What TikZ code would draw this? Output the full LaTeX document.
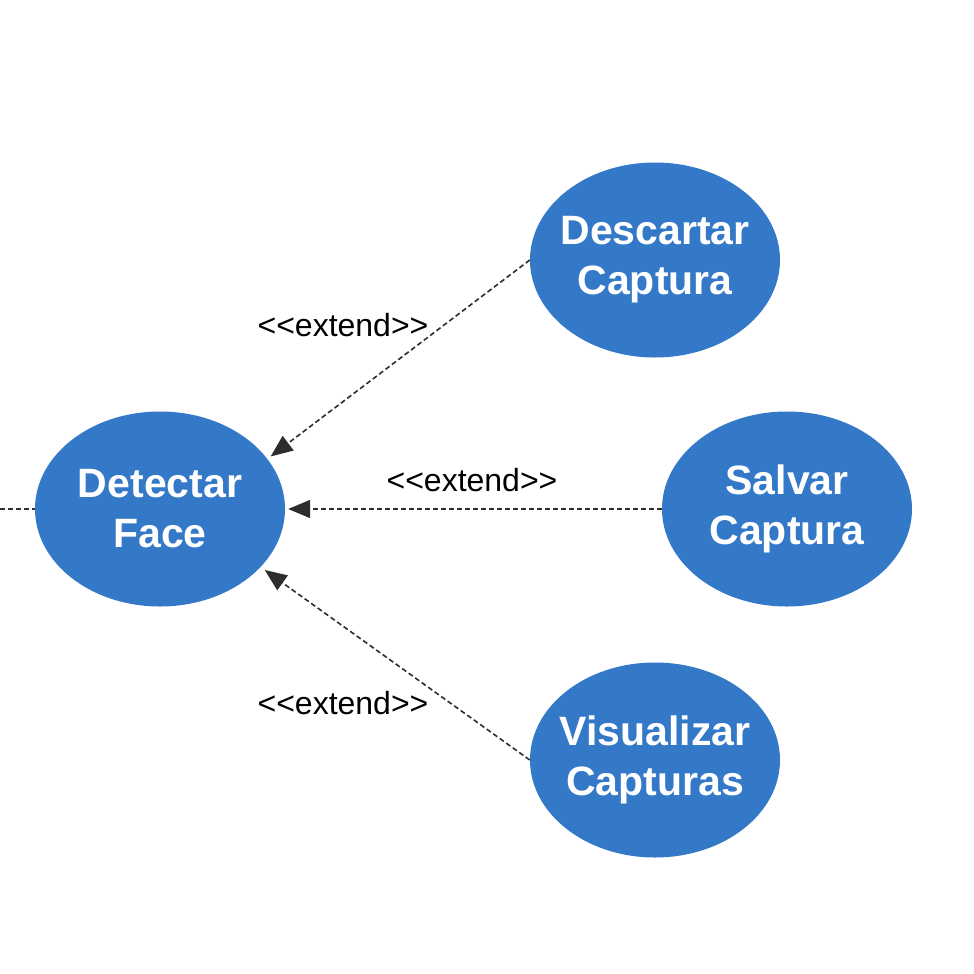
\documentclass[tikz,border=0pt]{standalone}
\usepackage{fontspec}
\setmainfont{Liberation Sans}
\usetikzlibrary{shapes.geometric,arrows.meta}
\definecolor{ucblue}{RGB}{52,120,200}
\definecolor{linegray}{RGB}{45,45,45}
\begin{document}
\begin{tikzpicture}[x=1pt,y=-1pt,
  usecase/.style={ellipse,fill=ucblue,draw=none,minimum width=250pt,minimum height=195pt,
    inner xsep=-30pt,inner ysep=-20pt,
    text=white,font=\fontsize{41}{50}\selectfont\bfseries,align=center},
  extline/.style={draw=linegray,line width=1.6pt,dash pattern=on 5pt off 3pt,
    -{Triangle[length=22pt,width=18pt,fill=linegray]}},
  plainline/.style={draw=linegray,line width=1.6pt,dash pattern=on 5pt off 3pt},
  lbl/.style={font=\fontsize{32}{38}\selectfont,text=black,inner sep=0pt}]
\useasboundingbox[fill=white] (0,0) rectangle (974,974);
\node[usecase] (det) at (160,509) {Detectar\\Face};
\node[usecase] (desc) at (655,260) {Descartar\\Captura};
\node[usecase] (salv) at (787,509) {Salvar\\Captura};
\node[usecase] (vis) at (655,760) {Visualizar\\Capturas};
\coordinate (leftend) at (0,509);
\draw[plainline] (leftend) -- (det.west);
\draw[extline,shorten >=4pt] (desc.west) -- (det.25);
\draw[extline,shorten >=3pt] (salv.west) -- (det.east);
\draw[extline,shorten >=5pt] (vis.west) -- (det.-30);
\node[lbl] (l1) at (343,325) {<{}<extend>{}>};
\node[lbl] (l2) at (472,480) {<{}<extend>{}>};
\node[lbl] (l3) at (343,703) {<{}<extend>{}>};
\end{tikzpicture}
\end{document}
